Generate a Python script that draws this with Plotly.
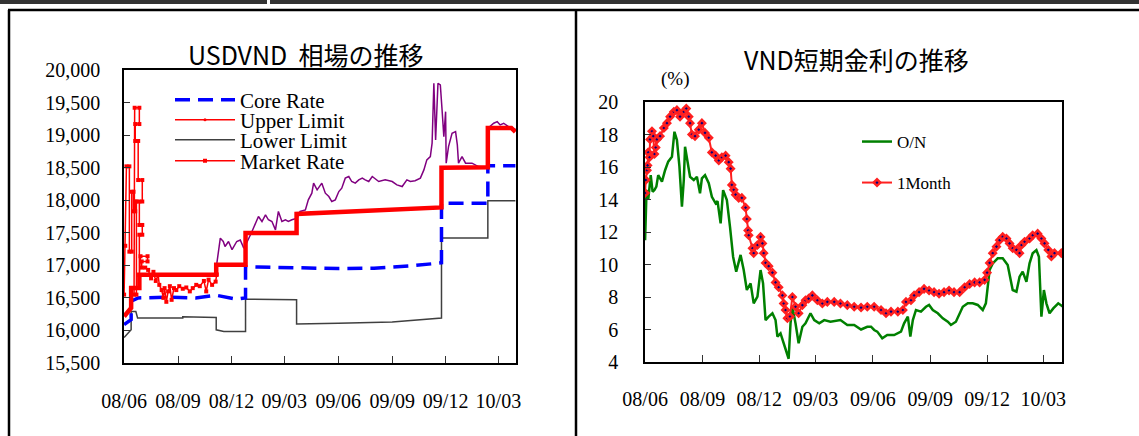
import plotly.graph_objects as go
import pandas as pd

W, H = 1139, 436
START = pd.Timestamp("2008-06-01")

# ---------------- Left panel: USDVND (days since 2008-06-01) ----------------
core_days = [0, 12, 12, 24, 75, 122, 157, 167, 192, 207, 207, 228, 287, 365, 426, 487, 532, 541, 541, 620, 620, 667]
core_vals = [16090, 16165, 16450, 16500, 16510, 16500, 16540, 16520, 16480, 16500, 16980, 16975, 16960, 16950,
             16955, 16990, 17030, 17040, 17955, 17955, 18530, 18530]

upper_days = [0, 12, 12, 26, 26, 157, 157, 207, 207, 294, 294, 365, 457, 541, 541, 620, 620, 660, 667]
upper_vals = [16215, 16345, 16650, 16650, 16855, 16855, 17010, 17010, 17495, 17495, 17790, 17820, 17850, 17890,
              18500, 18505, 19110, 19110, 19050]

lower_days = [0, 12, 12, 20, 23, 100, 100, 157, 157, 170, 207, 207, 294, 294, 365, 457, 541, 541, 620, 620, 667]
lower_vals = [15890, 16010, 16290, 16290, 16190, 16190, 16210, 16200, 16010, 15985, 15985, 16480, 16470, 16100,
              16110, 16130, 16190, 17418, 17418, 17990, 17990]

mkt_days = [0, 2, 4, 9, 9, 13, 13, 16, 16, 19, 19, 21, 21, 17, 18, 26, 26, 19, 19, 24, 24, 31, 31, 26, 26, 31,
            31, 26, 26, 28, 40, 40, 30, 30, 36, 41, 46, 50, 54, 58, 60, 64, 67, 69, 72, 75, 78, 81, 85, 89, 94,
            100, 106, 112, 117, 123, 129, 136, 140, 144, 150, 156, 158]
mkt_vals = [16550, 17300, 18520, 18520, 17210, 17210, 18130, 18130, 17830, 17830, 17980, 17980, 16550, 16550,
            19420, 19420, 19170, 19170, 18910, 18910, 18310, 18310, 17980, 17980, 17620, 17620, 17470, 17470,
            16850, 17140, 17140, 17060, 17060, 16965, 16965, 16930, 16800, 16900, 16760, 16850, 16700, 16620,
            16500, 16650, 16440, 16600, 16680, 16470, 16650, 16620, 16680, 16640, 16660, 16600, 16650, 16700,
            16680, 16760, 16600, 16780, 16700, 16750, 16860]

free_days = [155, 164, 169, 172, 178, 184, 192, 198, 204, 206, 218, 226, 229, 235, 241, 246, 252, 258, 261, 263,
             269, 275, 280, 286, 295, 300, 309, 314, 320, 323, 329, 334, 337, 343, 349, 354, 360, 366, 371, 377,
             383, 388, 394, 400, 406, 411, 417, 423, 434, 445, 457, 465, 474, 482, 488, 496, 505, 511, 516, 522,
             525, 528, 531, 535, 539, 542, 545, 548, 549, 553, 559, 565, 568, 570, 576, 582, 593, 604, 619, 620,
             630, 636, 641, 647, 659, 670]
free_vals = [16830, 17418, 17366, 17290, 17366, 17240, 17366, 17390, 17265, 17290, 17520, 17673, 17750, 17673,
             17776, 17700, 17673, 17545, 17700, 17827, 17673, 17700, 17673, 17700, 17725, 17827, 17852, 18006,
             18108, 18262, 18159, 18236, 18262, 18108, 18057, 17980, 18006, 18133, 18185, 18339, 18364, 18287,
             18262, 18313, 18339, 18313, 18287, 18364, 18287, 18313, 18287, 18236, 18210, 18313, 18287, 18300,
             18339, 18466, 18620, 18671, 18876, 19796, 18926, 19796, 19770, 19386, 18977, 19360, 18569, 18824,
             19029, 19054, 18850, 18569, 18671, 18569, 18569, 18517, 18508, 19105, 19182, 19207, 19156, 19182,
             19105, 19080]

# ---------------- Right panel: VND rates (%) ----------------
on_days = [0, 2, 4, 5, 9, 12, 15, 18, 21, 27, 32, 37, 43, 47, 51, 55, 59, 62, 64, 68, 72, 78, 83, 88, 91, 96,
           102, 107, 113, 116, 121, 125, 131, 136, 141, 146, 153, 158, 163, 169, 174, 180, 185, 189, 193, 198,
           204, 209, 212, 217, 222, 228, 230, 233, 236, 241, 246, 252, 257, 265, 271, 279, 287, 297, 313, 324,
           335, 346, 356, 362, 367, 372, 380, 388, 399, 410, 415, 421, 425, 429, 434, 442, 450, 455, 461, 469,
           477, 485, 490, 498, 504, 509, 517, 525, 533, 541, 546, 549, 552, 557, 565, 573, 581, 589, 595, 600,
           605, 611, 616, 621, 627, 631, 635, 639, 643, 648, 654, 662, 670]
on_vals = [11.5, 14.17, 14.58, 13.97, 15.5, 14.48, 14.58, 14.79, 15.5, 15.1, 15.8, 16.33, 16.63, 18.17, 17.66,
           16.02, 13.56, 15.2, 17.25, 16.33, 15.4, 15.2, 15.4, 14.38, 15.3, 15.5, 15.0, 14.17, 13.76, 13.9, 12.53,
           14.58, 13.97, 12.33, 10.48, 9.56, 10.59, 9.66, 8.43, 8.84, 7.61, 8.02, 9.66, 8.84, 6.58, 6.79, 7.0,
           6.58, 5.56, 5.76, 5.15, 4.32, 4.2, 6.38, 7.4, 6.38, 5.15, 6.17, 6.38, 7.0, 6.58, 6.38, 6.58, 6.48,
           6.58, 6.28, 6.28, 6.0, 6.17, 6.17, 5.97, 5.87, 5.46, 5.66, 5.66, 5.87, 6.38, 6.79, 5.56, 6.58, 7.2,
           7.1, 7.4, 7.51, 7.2, 7.0, 6.69, 6.48, 6.28, 6.48, 7.0, 7.4, 7.61, 7.61, 7.51, 7.2, 7.61, 8.84, 9.66,
           10.07, 10.38, 10.38, 9.97, 8.43, 8.33, 9.25, 9.56, 8.94, 10.07, 10.69, 10.89, 10.48, 6.79, 8.43, 7.61,
           7.0, 7.3, 7.61, 7.4]

m1_days = [0, 1, 3, 4, 5, 7, 8, 11, 13, 15, 17, 19, 24, 30, 35, 40, 46, 51, 56, 62, 66, 70, 72, 75, 80, 86, 91,
           96, 102, 107, 113, 118, 123, 129, 134, 137, 139, 142, 145, 150, 155, 161, 163, 165, 166, 172, 174,
           180, 185, 188, 190, 193, 198, 204, 209, 214, 220, 222, 225, 228, 232, 236, 241, 246, 252, 257, 262,
           268, 276, 284, 292, 303, 313, 324, 335, 346, 356, 367, 378, 386, 394, 405, 413, 418, 426, 431, 439,
           447, 455, 463, 471, 479, 487, 495, 504, 512, 520, 528, 536, 544, 548, 552, 557, 563, 568, 573, 579,
           584, 589, 595, 600, 603, 608, 616, 621, 629, 635, 640, 646, 651, 656, 667, 672]
m1_vals = [14.4, 15.2, 15.8, 16.1, 16.9, 16.6, 17.7, 18.2, 17.9, 16.8, 17.2, 17.7, 17.9, 18.4, 18.7, 19.1, 19.4,
           19.5, 19.1, 19.4, 19.6, 19.1, 18.7, 18.0, 17.9, 18.3, 18.7, 18.1, 17.8, 16.9, 16.7, 16.4, 16.6, 16.7,
           16.3, 15.9, 14.9, 14.6, 14.3, 14.1, 14.1, 13.5, 12.8, 12.1, 11.8, 11.0, 10.7, 11.2, 11.7, 11.3, 10.7,
           10.1, 9.9, 9.5, 8.9, 8.6, 8.1, 7.6, 7.2, 6.7, 6.8, 8.0, 7.4, 7.0, 7.5, 7.8, 7.9, 8.1, 7.8, 7.6, 7.7,
           7.7, 7.6, 7.5, 7.4, 7.35, 7.4, 7.4, 7.2, 7.0, 7.1, 7.1, 7.2, 7.7, 7.8, 8.1, 8.3, 8.5, 8.4, 8.3, 8.2,
           8.3, 8.4, 8.3, 8.3, 8.6, 8.8, 8.9, 8.9, 9.05, 9.5, 10.1, 10.7, 11.1, 11.5, 11.7, 11.6, 11.3, 11.0,
           10.9, 10.7, 11.2, 11.4, 11.6, 11.8, 11.9, 11.6, 11.3, 10.9, 10.5, 10.7, 10.7, 10.7]

left_title = "USDVND  相場の推移"
right_title = "VND短期金利の推移"
unit_label = "(%)"


def dates(days):
    return [START + pd.Timedelta(days=float(d)) for d in days]


def px(x):
    return x / W


def py(y):
    return 1 - y / H


SERIF = "Liberation Serif, Times New Roman, serif"
JP = "Noto Sans CJK JP, sans-serif"

fig = go.Figure()

# left panel traces
fig.add_trace(go.Scatter(x=dates(lower_days), y=lower_vals, mode="lines", name="Lower Limit",
                         line=dict(color="#404040", width=1.5), legend="legend3"))
fig.add_trace(go.Scatter(x=dates(core_days), y=core_vals, mode="lines", name="Core Rate",
                         line=dict(color="#0000FF", width=3.5, dash="15px,8px"), legend="legend"))
fig.add_trace(go.Scatter(x=dates(free_days), y=free_vals, mode="lines", showlegend=False,
                         line=dict(color="#800080", width=1.5)))
fig.add_trace(go.Scatter(x=dates(mkt_days), y=mkt_vals, mode="lines+markers", name="Market Rate",
                         line=dict(color="#FF0000", width=1.5),
                         marker=dict(symbol="square", size=4, color="#FF0000"), legend="legend4"))
fig.add_trace(go.Scatter(x=dates(upper_days), y=upper_vals, mode="lines", showlegend=False,
                         line=dict(color="#FF0000", width=4.5)))
fig.add_trace(go.Scatter(x=[None], y=[None], mode="lines+markers", name="Upper Limit",
                         line=dict(color="#FF0000", width=1.5),
                         marker=dict(symbol="circle", size=3, color="#FF0000"), legend="legend2"))

# right panel traces
fig.add_trace(go.Scatter(x=dates(on_days), y=on_vals, mode="lines", name="O/N", xaxis="x2", yaxis="y2",
                         line=dict(color="#008000", width=2.5), legend="legend5"))
fig.add_trace(go.Scatter(x=dates(m1_days), y=m1_vals, mode="lines+markers", name="1Month", xaxis="x2",
                         yaxis="y2", line=dict(color="#FF2020", width=2),
                         marker=dict(symbol="diamond", size=5, color="#000080",
                                     line=dict(color="#FF2020", width=2.5)),
                         legend="legend6"))

xr = ["2008-05-31 20:00", "2010-03-31"]
xcommon = dict(type="date", range=xr, tick0="2008-06-01", dtick="M3", tickformat="%y/%m",
               ticks="inside", ticklen=7, tickcolor="#333", showline=True, linecolor="black", linewidth=1.5,
               mirror=True, showgrid=False, zeroline=False, automargin=False,
               tickfont=dict(family=SERIF, size=20, color="black"))
ycommon = dict(ticks="inside", ticklen=6, tickcolor="#333", showline=True, linecolor="black", linewidth=1.5,
               mirror=True, showgrid=False, zeroline=False, automargin=False,
               tickfont=dict(family=SERIF, size=20, color="black"))

legend_base = dict(bgcolor="rgba(0,0,0,0)", borderwidth=0, xanchor="left", yanchor="middle",
                   font=dict(family=SERIF, size=21, color="black"), itemwidth=60)
legend_small = dict(bgcolor="rgba(0,0,0,0)", borderwidth=0, xanchor="left", yanchor="middle",
                    font=dict(family=SERIF, size=17, color="black"), itemwidth=30)

fig.update_layout(
    width=W, height=H, margin=dict(l=0, r=0, t=0, b=0, pad=0, autoexpand=False),
    paper_bgcolor="white", plot_bgcolor="white",
    xaxis=dict(domain=[px(124), px(516)], anchor="y", ticklabelstandoff=19, **xcommon),
    yaxis=dict(domain=[py(363), py(70)], anchor="x", range=[15500, 20000], dtick=500, tickformat=",",
               ticklabelstandoff=18, **ycommon),
    xaxis2=dict(domain=[px(645), px(1062)], anchor="y2", ticklabelstandoff=18, **xcommon),
    yaxis2=dict(domain=[py(362), py(102)], anchor="x2", range=[4, 20], dtick=2, ticklabelstandoff=21,
                **ycommon),
    legend=dict(x=px(170), y=py(100), **legend_base),
    legend2=dict(x=px(170), y=py(120), **legend_base),
    legend3=dict(x=px(170), y=py(140), **legend_base),
    legend4=dict(x=px(170), y=py(161), **legend_base),
    legend5=dict(x=px(857), y=py(142), **legend_small),
    legend6=dict(x=px(857), y=py(183), **legend_small),
    showlegend=True,
    annotations=[
        dict(text=left_title, x=px(305), y=py(54), xref="paper", yref="paper", showarrow=False,
             xanchor="center", yanchor="middle", font=dict(family=JP, size=25, color="black")),
        dict(text=right_title, x=px(856), y=py(59), xref="paper", yref="paper", showarrow=False,
             xanchor="center", yanchor="middle", font=dict(family=JP, size=25, color="black")),
        dict(text=unit_label, x=px(675), y=py(79), xref="paper", yref="paper", showarrow=False,
             xanchor="center", yanchor="middle", font=dict(family=SERIF, size=19, color="black")),
    ],
    shapes=[
        dict(type="rect", xref="paper", yref="paper", x0=0, x1=px(267), y0=py(0), y1=py(4),
             fillcolor="#333333", line=dict(width=0)),
        dict(type="rect", xref="paper", yref="paper", x0=px(270), x1=1, y0=py(0), y1=py(4),
             fillcolor="#333333", line=dict(width=0)),
        dict(type="line", xref="paper", yref="paper", x0=px(8), x1=1, y0=py(10), y1=py(10),
             line=dict(color="black", width=2.5)),
        dict(type="line", xref="paper", yref="paper", x0=px(9), x1=px(9), y0=py(10), y1=0,
             line=dict(color="black", width=2.5)),
        dict(type="line", xref="paper", yref="paper", x0=px(576), x1=px(576), y0=py(10), y1=0,
             line=dict(color="black", width=2.5)),
    ],
)

fig.write_html("out.html")
